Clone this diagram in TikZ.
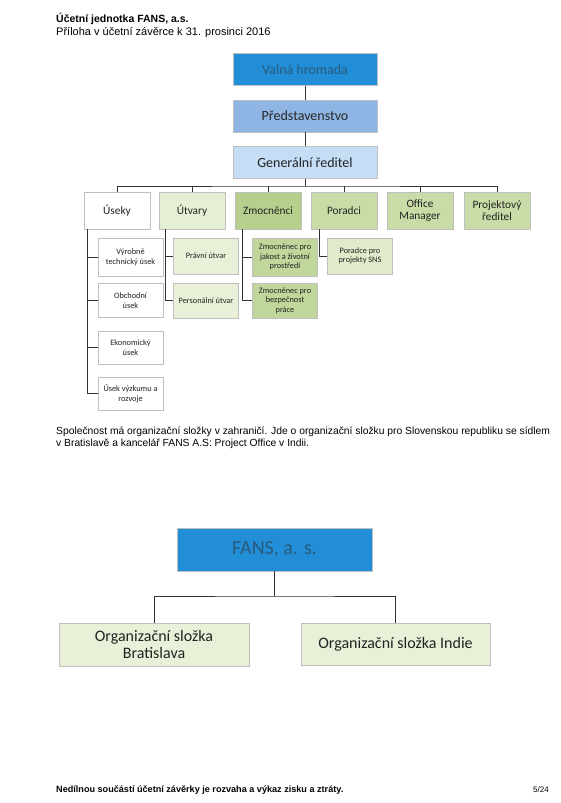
\documentclass[tikz,border=0pt]{standalone}
\usepackage{fontspec}
\setmainfont{Liberation Sans}
\newfontfamily\carl{Carlito}
\definecolor{vhc}{HTML}{218ED7}
\definecolor{vht}{HTML}{2A5A7A}
\definecolor{prc}{HTML}{8EB5E3}
\definecolor{grc}{HTML}{C6DDF6}
\definecolor{ltg}{HTML}{E5EFD3}
\definecolor{mdg}{HTML}{B7CF8D}
\definecolor{g2}{HTML}{C9DCA7}
\definecolor{sutv}{HTML}{E8F1D8}
\definecolor{szm}{HTML}{C0D69A}
\definecolor{spor}{HTML}{E0EBCB}
\definecolor{txt}{HTML}{222222}
\definecolor{lnc}{HTML}{333333}
\tikzset{
  box/.style={draw=gray!50, line width=0.5pt, align=center, inner sep=1pt, font=\carl, text=txt},
  topbox/.style={box, minimum width=144pt, minimum height=32pt, font=\carl\fontsize{14}{16}\selectfont},
  lvl/.style={box, minimum width=66pt, minimum height=37pt, font=\carl\fontsize{11.3}{12.5}\selectfont},
  sub/.style={box, minimum width=65pt, font=\carl\fontsize{8.3}{9.6}\selectfont},
  conn/.style={draw=lnc, line width=0.8pt},
  para/.style={anchor=base west, inner sep=0, font=\fontsize{10.3}{12}\selectfont}
}
\begin{document}
\begin{tikzpicture}[x=1pt,y=-1pt]
\fill[white] (0,0) rectangle (560,803);
\useasboundingbox (0,0) rectangle (560,803);
% header
\node[para, font=\bfseries\fontsize{10.5}{12}\selectfont] (h1) at (56,23) {Účetní jednotka FANS, a.s.};
\node[para, font=\fontsize{11}{12}\selectfont] (h2) at (56,35.5) {Příloha v účetní závěrce k 31. prosinci 2016};
% top chain
\node[topbox, fill=vhc, text=vht] (vh) at (305,69.5) {Valná hromada};
\node[topbox, fill=prc, text=black!85] (pr) at (305,116) {Představenstvo};
\node[topbox, fill=grc] (gr) at (305,162.5) {Generální ředitel};
\draw[conn] (vh.south) -- (pr.north);
\draw[conn] (pr.south) -- (gr.north);
% level 2
\node[lvl, fill=white] (us) at (117,210.5) {Úseky};
\node[lvl, fill=ltg] (ut) at (192,210.5) {Útvary};
\node[lvl, fill=mdg] (zm) at (268,210.5) {Zmocněnci};
\node[lvl, fill=g2] (po) at (344,210.5) {Poradci};
\node[lvl, fill=g2] (om) at (420,210.5) {Office\\[-1pt]Manager};
\node[lvl, fill=g2] (pj) at (497,210.5) {Projektový\\[-1pt]ředitel};
\coordinate (bus) at (305,186);
\draw[conn] (gr.south) -- (bus);
\draw[conn] (us.north) |- (bus) -| (pj.north);
\foreach \n in {ut,zm,po,om} \draw[conn] (\n.north) -- (\n.north |- bus);
% Úseky subs
\node[sub, fill=white, minimum height=38pt] (u1) at (130.5,257) {Výrobně\\technický úsek};
\node[sub, fill=white, minimum height=34pt] (u2) at (130.5,300.5) {Obchodní\\úsek};
\node[sub, fill=white, minimum height=33pt] (u3) at (130.5,347.5) {Ekonomický\\úsek};
\node[sub, fill=white, minimum height=33pt] (u4) at (130.5,393.5) {Úsek výzkumu a\\rozvoje};
\coordinate (ul) at ([xshift=4pt]us.south west);
\draw[conn] (ul) |- (u4.west);
\foreach \n in {u1,u2,u3} \draw[conn] (\n.west) -- (\n.west -| ul);
% Útvary subs
\node[sub, fill=sutv, minimum height=36pt] (t1) at (206,256) {Právní útvar};
\node[sub, fill=sutv, minimum height=35pt] (t2) at (206,300.5) {Personální útvar};
\coordinate (tl) at ([xshift=7pt]ut.south west);
\draw[conn] (tl) |- (t2.west);
\draw[conn] (t1.west) -- (t1.west -| tl);
% Zmocněnci subs
\node[sub, fill=szm, minimum height=38pt] (z1) at (285,257) {Zmocněnec pro\\jakost a životní\\prostředí};
\node[sub, fill=szm, minimum height=35pt] (z2) at (285,300.5) {Zmocněnec pro\\bezpečnost\\práce};
\coordinate (zl) at ([xshift=8pt]zm.south west);
\draw[conn] (zl) |- (z2.west);
\draw[conn] (z1.west) -- (z1.west -| zl);
% Poradci sub
\node[sub, fill=spor, minimum height=36pt] (p1) at (360,256) {Poradce pro\\projekty SNS};
\coordinate (pl) at ([xshift=9pt]po.south west);
\draw[conn] (pl) |- (p1.west);
% paragraph
\node[para] (t1l) at (56,434) {Společnost má organizační složky v zahraničí. Jde o organizační složku pro Slovenskou republiku se sídlem};
\node[para] (t2l) at (56,446.5) {v Bratislavě a kancelář FANS A.S: Project Office v Indii.};
% bottom chart
\node[box, fill=vhc, text=vht, minimum width=195pt, minimum height=43pt, font=\carl\fontsize{20}{23}\selectfont] (fans) at (274.5,549.5) {FANS, a. s.};
\node[box, fill=sutv, minimum width=190pt, minimum height=43pt, font=\carl\fontsize{16}{17.5}\selectfont] (bra) at (154,644.5) {Organizační složka\\Bratislava};
\node[box, fill=sutv, minimum width=189pt, minimum height=42pt, font=\carl\fontsize{16}{17.5}\selectfont] (ind) at (395.5,644) {Organizační složka Indie};
\coordinate (bus2) at (274.5,596);
\draw[conn] (fans.south) -- (bus2);
\draw[conn] (bra.north) |- (bus2) -| (ind.north);
% footer
\node[para, font=\bfseries\fontsize{9.1}{10}\selectfont] (f1) at (56,792) {Nedílnou součástí účetní závěrky je rozvaha a výkaz zisku a ztráty.};
\node[anchor=base east, inner sep=0, font=\fontsize{8}{9}\selectfont] (pg) at (549,792) {5/24};
\end{tikzpicture}
\end{document}
